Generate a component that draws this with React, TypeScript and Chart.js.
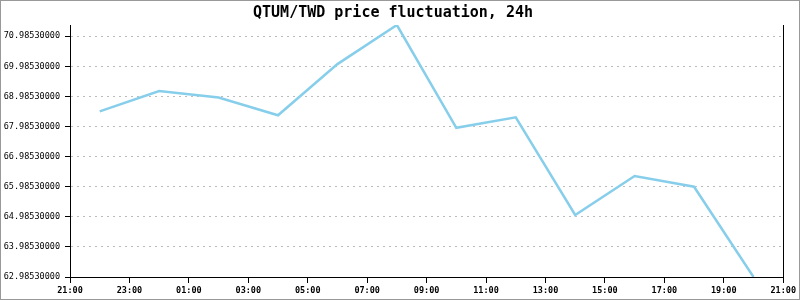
import React, { useEffect, useRef } from "react";
import { Chart, registerables } from "chart.js";

Chart.register(...registerables);

const hours = ["22:00", "00:00", "02:00", "04:00", "06:00", "08:00", "10:00", "12:00", "14:00", "16:00", "18:00", "20:00"];
const prices = [68.49, 69.165, 68.95, 68.36, 70.06, 71.36, 67.945, 68.29, 65.045, 66.34, 65.985, 62.9853];
const yTicks = [62.9853, 63.9853, 64.9853, 65.9853, 66.9853, 67.9853, 68.9853, 69.9853, 70.9853];
const xTickLabels = ["21:00", "23:00", "01:00", "03:00", "05:00", "07:00", "09:00", "11:00", "13:00", "15:00", "17:00", "19:00", "21:00"];
const titleText = "QTUM/TWD price fluctuation, 24h";
const yMin = 62.9853;
const yMax = 71.36;

const hourOffset = (h: string) => (parseInt(h.split(":")[0], 10) - 21 + 24) % 24;

const rightBorder = {
  id: "rightBorder",
  afterDraw(chart: any) {
    const { ctx, chartArea } = chart;
    ctx.save();
    ctx.strokeStyle = "#000";
    ctx.lineWidth = 1;
    ctx.beginPath();
    const x = Math.round(chartArea.right) + 0.5;
    ctx.moveTo(x, chartArea.top);
    ctx.lineTo(x, chartArea.bottom);
    ctx.stroke();
    ctx.restore();
  },
};

export default function App() {
  const ref = useRef<HTMLCanvasElement>(null);
  useEffect(() => {
    if (!ref.current) return;
    const mono = "'DejaVu Sans Mono', monospace";
    const chart = new Chart(ref.current, {
      type: "line",
      data: {
        datasets: [
          {
            data: hours.map((h, i) => ({ x: hourOffset(h), y: prices[i] })),
            borderColor: "#87CEEB",
            borderWidth: 2.5,
            pointRadius: 0,
            tension: 0,
            fill: false,
          },
        ],
      },
      options: {
        animation: false,
        responsive: true,
        maintainAspectRatio: false,
        layout: { padding: { right: 14, left: 0, top: 0, bottom: 0 } },
        plugins: {
          legend: { display: false },
          tooltip: { enabled: false },
          title: {
            display: true,
            text: titleText,
            color: "#000",
            font: { family: mono, size: 15, weight: "bold" },
            padding: { top: 3, bottom: 3 },
          },
        },
        scales: {
          x: {
            type: "linear",
            min: 0,
            max: 24,
            afterBuildTicks: (scale: any) => {
              scale.ticks = xTickLabels.map((_, i) => ({ value: i * 2 }));
            },
            afterFit: (scale: any) => {
              scale.height = 22;
            },
            ticks: {
              autoSkip: false,
              maxRotation: 0,
              color: "#000",
              padding: 3,
              font: { family: mono, size: 8.5, weight: "bold" },
              callback: (_v: any, i: number) => xTickLabels[i],
            },
            grid: { drawOnChartArea: false, tickLength: 6, tickColor: "#000" },
            border: { color: "#000", width: 1 },
          },
          y: {
            min: yMin,
            max: yMax,
            afterBuildTicks: (scale: any) => {
              scale.ticks = yTicks.map((v) => ({ value: v }));
            },
            afterFit: (scale: any) => {
              scale.width = 69;
            },
            ticks: {
              color: "#000",
              padding: 5,
              font: { family: mono, size: 8.5 },
              callback: (v: any) => Number(v).toFixed(8),
            },
            grid: { color: "#bbbbbb", tickLength: 5, tickColor: "#000" },
            border: { color: "#000", width: 1, dash: [2, 4] },
          },
        },
      },
      plugins: [rightBorder],
    } as any);
    return () => chart.destroy();
  }, []);
  return (
    <div
      style={{
        position: "fixed",
        left: 0,
        top: 0,
        width: 800,
        height: 300,
        boxSizing: "border-box",
        border: "1px solid #999",
        background: "#fff",
      }}
    >
      <canvas ref={ref} />
    </div>
  );
}
